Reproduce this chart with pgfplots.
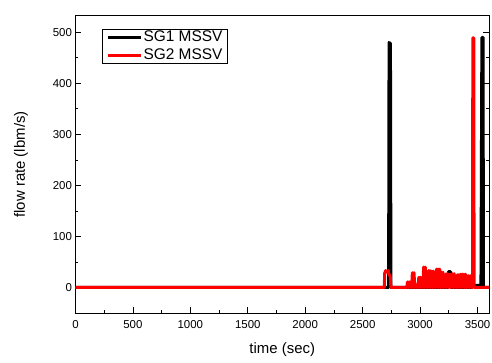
\documentclass[border=0pt]{standalone}
\usepackage{fontspec}
\setmainfont{Liberation Sans}
\usepackage{pgfplots}
\pgfplotsset{compat=1.18}
\begin{document}
\begin{tikzpicture}
\begin{axis}[
  scale only axis,
  width=413.5bp, height=297bp,
  at={(0,0)}, anchor=south west,
  xmin=0, xmax=3600, ymin=-50, ymax=532,
  xtick={0,500,...,3500}, ytick={0,100,...,500},
  minor x tick num=1, minor y tick num=1,
  xtick pos=bottom, ytick pos=both,
  yticklabel pos=left,
  tick align=inside,
  major tick length=6bp, minor tick length=3bp,
  tick style={black, line width=0.8bp},
  axis line style={black, line width=1bp},
  /pgf/number format/assume math mode=true,
  /pgf/number format/set thousands separator={},
  ticklabel style={font=\fontsize{11.5}{12}\selectfont},
  xticklabel style={yshift=-4bp},
  label style={font=\fontsize{15}{16}\selectfont},
  xlabel={time (sec)}, ylabel={flow rate (lbm/s)},
  xlabel style={at={(axis description cs:0.5,-0.1246)}, anchor=center},
  ylabel style={at={(axis description cs:-0.1318,0.5)}, anchor=center},
  legend style={at={(axis description cs:0.0634,0.955)}, anchor=north west,
    draw=black, line width=0.6bp, inner xsep=4bp, inner ysep=0bp, row sep=2bp,
    font=\fontsize{15.5}{16}\selectfont,
    nodes={inner sep=1bp, text height=11bp, text depth=3bp}},
  legend cell align=left,
  legend image code/.code={\draw[#1, line width=3.5bp] (0bp,0bp) -- (33bp,0bp);},
]
\addplot[black, line width=3bp, line join=round] coordinates {
(0,0) (2726,0) (2730,480) (2742,478) (2746,0) (3150,0)
(3245,0) (3248,31) (3266,31) (3269,0) (3445,0) (3450,4) (3530,4)
(3538,490) (3548,490) (3552,0) (3600,0)
};
\addlegendentry{SG1 MSSV}
\addplot[red, line width=3bp, line join=round] coordinates {
(0,0) (2688,0) (2692,28) (2700,33) (2712,30) (2722,33) (2730,25) (2740,22) (2746,0)
(2884,0) (2891,11) (2898,0) (2905,11) (2912,0) (2919,11) (2926,0) (2933,29)
(2940,0) (2947,29) (2954,0) (2961,6) (2968,0) (2975,6) (2982,0) (2989,20)
(2996,0) (3003,20) (3010,0) (3017,20) (3024,0) (3031,40) (3038,0) (3045,40)
(3052,0) (3059,25) (3066,0) (3073,33) (3080,0) (3087,33) (3094,0) (3101,32)
(3108,0) (3115,32) (3122,0) (3129,22) (3136,0) (3143,36) (3150,0) (3157,36)
(3164,0) (3171,36) (3178,0) (3185,30) (3192,0) (3199,30) (3206,0) (3213,24)
(3220,0) (3227,27) (3234,0) (3241,27) (3248,0) (3255,26) (3262,0) (3269,26)
(3276,0) (3283,27) (3290,0) (3297,27) (3304,0) (3311,22) (3318,0) (3325,25)
(3332,0) (3339,25) (3346,0) (3353,26) (3360,0) (3367,26) (3374,0) (3381,26)
(3388,0) (3395,26) (3402,0) (3409,23) (3416,0) (3423,23) (3430,0) (3437,23)
(3444,0) (3457,0) (3459,489) (3468,489) (3470,0) (3600,0)
};
\addlegendentry{SG2 MSSV}
\end{axis}
\pgfresetboundingbox
\path (-75.5bp,-50bp) rectangle (416.5bp,313bp);
\end{tikzpicture}
\end{document}
